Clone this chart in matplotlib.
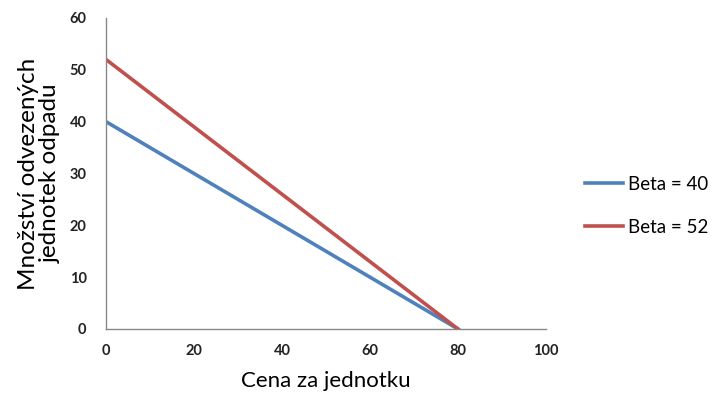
import numpy as np
import matplotlib.pyplot as plt

plt.rcParams['font.family'] = ['Lato', 'DejaVu Sans']

# price per unit and quantity of waste collected for two beta values
cena = [0, 80]
beta_40 = [40, 0]
beta_52 = [52, 0]
labels = ['Beta = 40', 'Beta = 52']

fig = plt.figure(figsize=(7.22, 3.96), dpi=100)
ax = fig.add_axes([0.1468, 0.1692, 0.6094, 0.7854])

ax.plot(cena, beta_40, color='#4F81BD', lw=2.6, label=labels[0])
ax.plot(cena, beta_52, color='#C0504D', lw=2.6, label=labels[1])

ax.set_xlim(0, 100)
ax.set_ylim(0, 60)
ax.set_xticks(np.arange(0, 101, 20))
ax.set_yticks(np.arange(0, 61, 10))
ax.tick_params(length=0, labelsize=10.5, pad=11, colors='#222222')
for t in ax.get_xticklabels() + ax.get_yticklabels():
    t.set_fontweight('bold')
ax.tick_params(axis='y', pad=14)

for s in ['top', 'right']:
    ax.spines[s].set_visible(False)
for s in ['left', 'bottom']:
    ax.spines[s].set_color('#888888')
    ax.spines[s].set_linewidth(1)

ax.set_xlabel('Cena za jednotku', fontsize=16, labelpad=9)
ax.set_ylabel('Množství odvezených\njednotek odpadu', fontsize=17.5,
              labelpad=6, linespacing=1.1)

fig.legend(loc='center left', bbox_to_anchor=(0.787, 0.48), frameon=False,
           fontsize=13.5, handlelength=2.0, handletextpad=0.3, labelspacing=1.4)

fig.savefig('out.png', dpi=100)
